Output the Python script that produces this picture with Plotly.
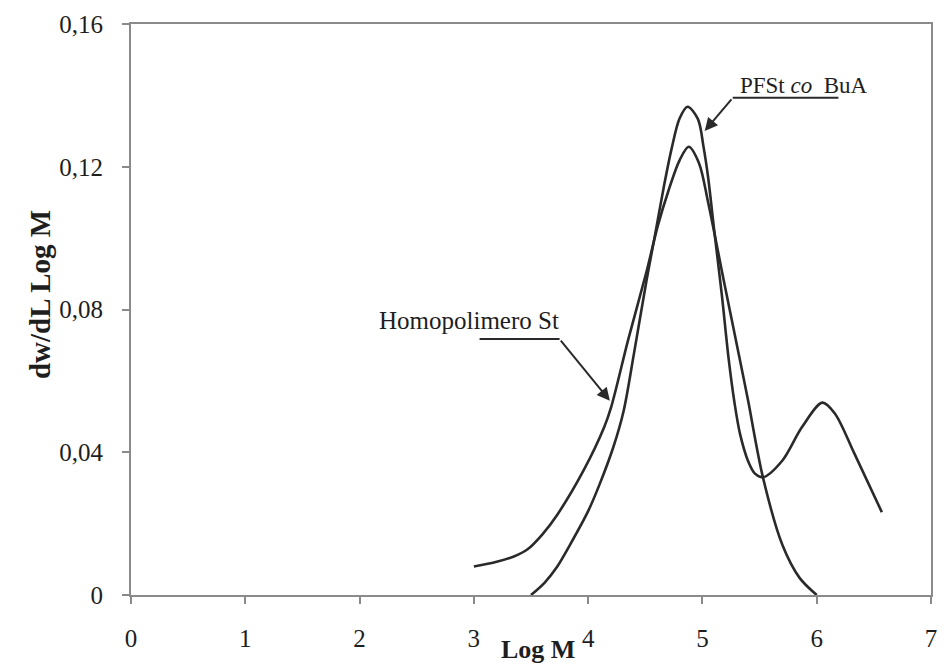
import plotly.graph_objects as go

# Molecular weight distributions (Log M vs dw/dLog M)
homo_logm = [3.00, 3.20, 3.35, 3.47, 3.60, 3.73, 3.96, 4.14, 4.20, 4.35, 4.51, 4.61,
             4.70, 4.80, 4.88, 4.97, 5.05, 5.20, 5.33, 5.40, 5.53, 5.70, 5.85, 6.00]
homo_w = [0.0080, 0.0093, 0.0108, 0.0128, 0.0170, 0.0225, 0.0349, 0.0470, 0.0525,
          0.0715, 0.0905, 0.1035, 0.1130, 0.1218, 0.1256, 0.1210, 0.1100, 0.0860,
          0.0656, 0.0544, 0.0329, 0.0140, 0.0048, 0.0000]

cop_logm = [3.50, 3.62, 3.73, 3.84, 4.00, 4.10, 4.22, 4.31, 4.40, 4.51, 4.58,
            4.66, 4.73, 4.80, 4.87, 4.96, 5.01, 5.05, 5.10, 5.17, 5.23, 5.28,
            5.33, 5.40, 5.46, 5.53, 5.70, 5.87, 6.05, 6.16, 6.33, 6.57]
cop_w = [0.0000, 0.0035, 0.0080, 0.0140, 0.0235, 0.0310, 0.0414, 0.0515, 0.0675,
         0.0880, 0.1000, 0.1140, 0.1250, 0.1335, 0.1368, 0.1334, 0.1255, 0.1170,
         0.1030, 0.0840, 0.0660, 0.0540, 0.0450, 0.0375, 0.0340, 0.0330, 0.0377,
         0.0470, 0.0539, 0.0508, 0.0396, 0.0232]

x_ticks = [0, 1, 2, 3, 4, 5, 6, 7]
y_ticks = [0, 0.04, 0.08, 0.12, 0.16]
y_tick_text = ["0", "0,04", "0,08", "0,12", "0,16"]

SERIF = "Liberation Serif, Times New Roman, serif"
LINE = "#2a2a2a"
AXIS = "#8a8a8a"
TEXT = "#1e1e1e"

fig = go.Figure()
for xs, ys in [(homo_logm, homo_w), (cop_logm, cop_w)]:
    fig.add_trace(go.Scatter(
        x=xs, y=ys, mode="lines",
        line=dict(color=LINE, width=2.6, shape="spline", smoothing=0.9),
        showlegend=False, hoverinfo="skip",
    ))

# Leader lines for the curve labels
fig.add_shape(type="line", xref="x", yref="y", x0=3.05, y0=0.0717, x1=3.75, y1=0.0717,
              line=dict(color=LINE, width=2))
fig.add_annotation(x=4.19, y=0.0544, ax=3.75, ay=0.0717, xref="x", yref="y",
                   axref="x", ayref="y", text="", showarrow=True,
                   arrowhead=2, arrowsize=1.3, arrowwidth=2, arrowcolor=LINE)
fig.add_annotation(x=2.96, y=0.0768, xref="x", yref="y", text="Homopolimero St",
                   showarrow=False, font=dict(family=SERIF, size=25, color=TEXT))

fig.add_shape(type="line", xref="x", yref="y", x0=5.265, y0=0.1393, x1=6.19, y1=0.1393,
              line=dict(color=LINE, width=2))
fig.add_annotation(x=5.02, y=0.130, ax=5.265, ay=0.1393, xref="x", yref="y",
                   axref="x", ayref="y", text="", showarrow=True,
                   arrowhead=2, arrowsize=1.3, arrowwidth=2, arrowcolor=LINE)
fig.add_annotation(x=5.89, y=0.1428, xref="x", yref="y", text="PFSt <i>co</i>  BuA",
                   showarrow=False, font=dict(family=SERIF, size=23, color=TEXT))

# Axis titles
fig.add_annotation(x=3.56, y=-0.095, xref="x", yref="paper", text="<b>Log M</b>",
                   showarrow=False, yanchor="middle",
                   font=dict(family=SERIF, size=26, color=TEXT))
fig.add_annotation(x=-0.137, y=0.526, xref="paper", yref="paper", text="<b>dw/dL Log M</b>",
                   textangle=-90, showarrow=False,
                   font=dict(family=SERIF, size=29, color=TEXT))

fig.update_xaxes(range=[0, 7], tickvals=x_ticks, ticks="outside", ticklen=7,
                 tickcolor=AXIS, tickwidth=1.5, showline=True, linecolor=AXIS,
                 linewidth=1.8, mirror=True, showgrid=False, zeroline=False,
                 ticklabelstandoff=13,
                 tickfont=dict(family=SERIF, size=25, color=TEXT))
fig.update_yaxes(range=[0, 0.16], tickvals=y_ticks, ticktext=y_tick_text,
                 ticks="outside", ticklen=7, tickcolor=AXIS, tickwidth=1.5,
                 showline=True, linecolor=AXIS, linewidth=1.8, mirror=True,
                 showgrid=False, zeroline=False, ticklabelstandoff=14,
                 tickfont=dict(family=SERIF, size=25, color=TEXT))

fig.update_layout(
    width=944, height=667,
    margin=dict(l=131, r=7, t=24, b=72),
    paper_bgcolor="white", plot_bgcolor="white",
)

fig.write_html("out.html")
